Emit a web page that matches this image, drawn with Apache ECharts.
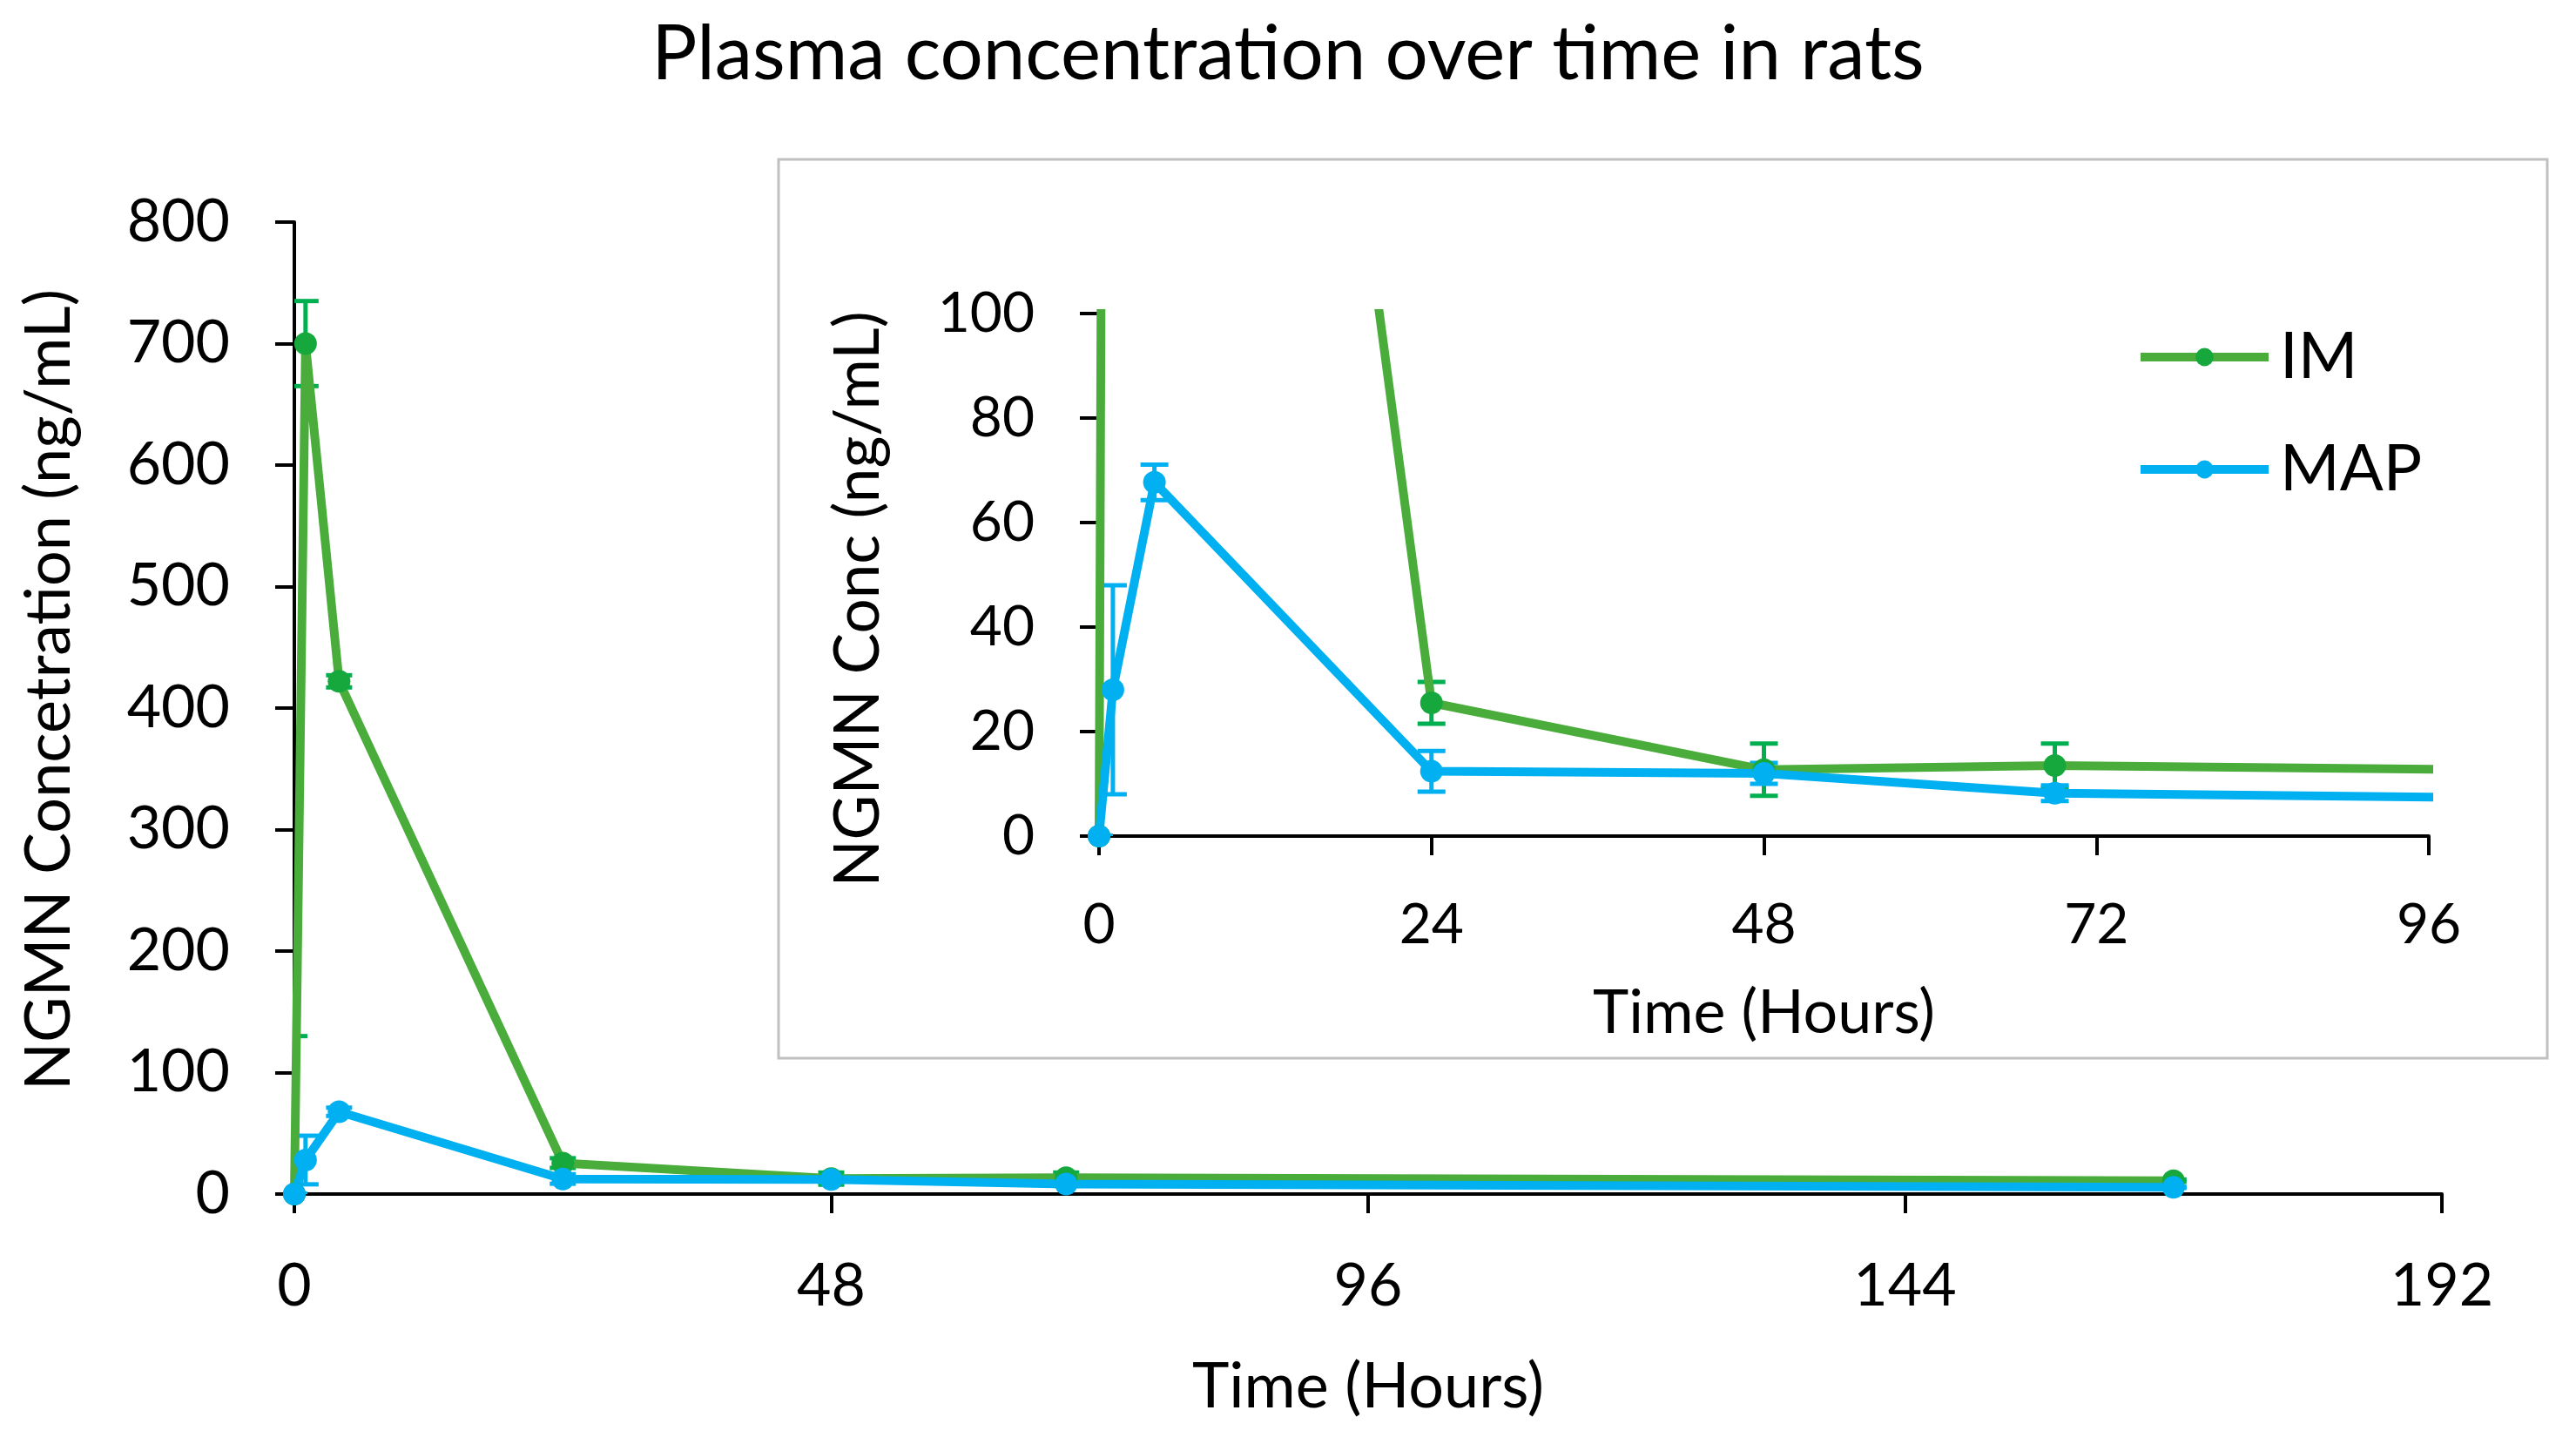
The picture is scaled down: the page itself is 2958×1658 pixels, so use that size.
<!DOCTYPE html>
<html lang="en">
<head>
    <meta charset="UTF-8">
    <title>Plasma concentration over time in rats</title>
    <script src="https://cdn.jsdelivr.net/npm/echarts@6.0.0/dist/echarts.min.js"></script>
    <style>
        html, body { margin: 0; padding: 0; background: #fff; }
        #chart { width: 2958px; height: 1658px; }
    </style>
</head>
<body>
    <div id="chart"></div>
    <script>
        // sampling times (hours)
        const hours = [0, 1, 4, 24, 48, 69, 168];
        // IM: mean and error (ng/mL)
        const imConc = [0, 700, 422, 25.5, 12.7, 13.5, 11];
        const imErr = [130, 35, 5, 4, 5, 4.2, 1];
        // MAP: mean and error (ng/mL)
        const mapConc = [0, 28, 67.7, 12.4, 12, 8.2, 5.5];
        const mapErr = [0, 20, 3.4, 3.9, 2, 1.5, 0.5];

        const mainXTicks = [0, 192, 48];   // min, max, interval
        const mainYTicks = [0, 800, 100];
        const insetXTicks = [0, 96, 24];
        const insetYTicks = [0, 100, 20];

        const FONT = 'Lato';
        const GREEN_LINE = '#4aad3b';
        const GREEN_DOT = '#17a83d';
        const GREEN_ERR = '#00b050';
        const BLUE = '#00b0f0';

        function pairs(xs, ys) {
            return xs.map((x, i) => [x, ys[i]]);
        }
        function errData(xs, ys, es) {
            return xs.map((x, i) => [x, Math.max(0, ys[i] - es[i]), ys[i] + es[i]]);
        }

        function errorSeries(name, data, color, axisIdx, capHalf) {
            return {
                name: name,
                type: 'custom',
                xAxisIndex: axisIdx,
                yAxisIndex: axisIdx,
                clip: true,
                z: 3,
                data: data,
                renderItem: function (params, api) {
                    const x = api.value(0);
                    const lo = api.coord([x, api.value(1)]);
                    const hi = api.coord([x, api.value(2)]);
                    const st = { stroke: color, lineWidth: 5 };
                    return {
                        type: 'group',
                        children: [
                            { type: 'line', shape: { x1: lo[0], y1: lo[1], x2: hi[0], y2: hi[1] }, style: st },
                            { type: 'line', shape: { x1: hi[0] - capHalf, y1: hi[1], x2: hi[0] + capHalf, y2: hi[1] }, style: st },
                            { type: 'line', shape: { x1: lo[0] - capHalf, y1: lo[1], x2: lo[0] + capHalf, y2: lo[1] }, style: st }
                        ]
                    };
                }
            };
        }

        function lineSeries(name, data, lineColor, dotColor, axisIdx) {
            return {
                name: name,
                type: 'line',
                xAxisIndex: axisIdx,
                yAxisIndex: axisIdx,
                data: data,
                clip: true,
                symbol: 'circle',
                symbolSize: 26,
                z: 4,
                lineStyle: { color: lineColor, width: 10 },
                itemStyle: { color: dotColor },
                emphasis: { disabled: true }
            };
        }

        const axisLineStyle = { show: true, lineStyle: { color: '#000', width: 4 } };
        const tickStyle = { show: true, inside: false, length: 22, lineStyle: { color: '#000', width: 4 } };

        const chart = echarts.init(document.getElementById('chart'));
        const option = {
            animation: false,
            title: {
                text: 'Plasma concentration over time in rats',
                left: 'center',
                top: 14,
                textStyle: { fontFamily: FONT, fontSize: 87, fontWeight: 'normal', color: '#000' }
            },
            legend: {
                data: ['IM', 'MAP'],
                orient: 'vertical',
                left: 2448,
                top: 365,
                itemWidth: 147,
                itemHeight: 26,
                itemGap: 49,
                lineStyle: { width: 10 },
                textStyle: { fontFamily: FONT, fontSize: 74, lineHeight: 80, color: '#000', padding: [0, 0, 0, 8] }
            },
            graphic: [{
                type: 'rect',
                z: -10,
                shape: { x: 894, y: 183, width: 2031, height: 1032 },
                style: { fill: 'none', stroke: '#c0c0c0', lineWidth: 3 }
            }],
            grid: [
                { left: 338, right: 154, top: 255, bottom: 287 },
                { left: 1262, right: 169, top: 360, bottom: 698 }
            ],
            xAxis: [
                {
                    type: 'value', gridIndex: 0,
                    min: mainXTicks[0], max: mainXTicks[1], interval: mainXTicks[2],
                    name: 'Time (Hours)', nameLocation: 'middle', nameGap: 186,
                    nameTextStyle: { fontFamily: FONT, fontSize: 72, color: '#000' },
                    axisLine: axisLineStyle, axisTick: tickStyle, splitLine: { show: false },
                    axisLabel: { fontFamily: FONT, fontSize: 68, color: '#000', margin: 72 }
                },
                {
                    type: 'value', gridIndex: 1,
                    min: insetXTicks[0], max: insetXTicks[1], interval: insetXTicks[2],
                    name: 'Time (Hours)', nameLocation: 'middle', nameGap: 168,
                    nameTextStyle: { fontFamily: FONT, fontSize: 70, color: '#000' },
                    axisLine: axisLineStyle, axisTick: tickStyle, splitLine: { show: false },
                    axisLabel: { fontFamily: FONT, fontSize: 64, color: '#000', margin: 70 }
                }
            ],
            yAxis: [
                {
                    type: 'value', gridIndex: 0,
                    min: mainYTicks[0], max: mainYTicks[1], interval: mainYTicks[2],
                    name: 'NGMN Concetration (ng/mL)', nameLocation: 'middle', nameGap: 245,
                    nameTextStyle: { fontFamily: FONT, fontSize: 72, color: '#000', padding: [0, 0, 0, 42] },
                    axisLine: axisLineStyle, axisTick: tickStyle, splitLine: { show: false },
                    axisLabel: { fontFamily: FONT, fontSize: 68, color: '#000', margin: 74 }
                },
                {
                    type: 'value', gridIndex: 1,
                    min: insetYTicks[0], max: insetYTicks[1], interval: insetYTicks[2],
                    name: 'NGMN Conc (ng/mL)', nameLocation: 'middle', nameGap: 240,
                    nameTextStyle: { fontFamily: FONT, fontSize: 71, color: '#000', padding: [0, 56, 0, 0] },
                    axisLine: axisLineStyle, axisTick: tickStyle, splitLine: { show: false },
                    axisLabel: { fontFamily: FONT, fontSize: 64, color: '#000', margin: 74 }
                }
            ],
            series: [
                lineSeries('IM', pairs(hours, imConc), GREEN_LINE, GREEN_DOT, 0),
                lineSeries('MAP', pairs(hours, mapConc), BLUE, BLUE, 0),
                errorSeries('IM', errData(hours, imConc, imErr), GREEN_ERR, 0, 15),
                errorSeries('MAP', errData(hours, mapConc, mapErr), BLUE, 0, 15),
                lineSeries('IM', pairs(hours, imConc), GREEN_LINE, GREEN_DOT, 1),
                lineSeries('MAP', pairs(hours, mapConc), BLUE, BLUE, 1),
                errorSeries('IM', errData(hours, imConc, imErr), GREEN_ERR, 1, 16),
                errorSeries('MAP', errData(hours, mapConc, mapErr), BLUE, 1, 16)
            ]
        };
        chart.setOption(option);
    </script>
</body>
</html>
